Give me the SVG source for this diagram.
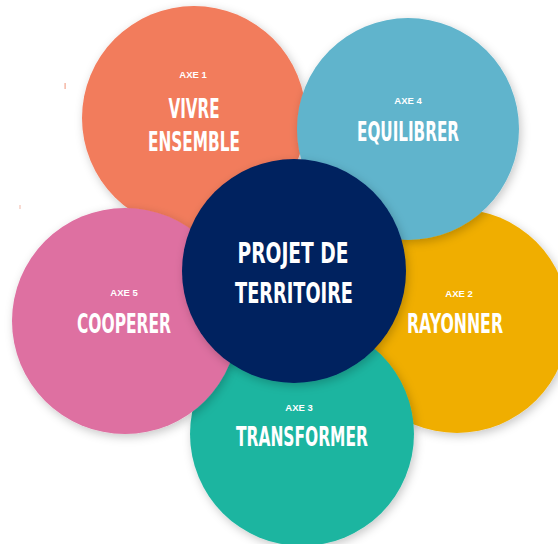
<svg xmlns="http://www.w3.org/2000/svg" width="558" height="544" viewBox="0 0 558 544">
  <defs>
    <filter id="sh" x="-20%" y="-20%" width="140%" height="140%">
      <feDropShadow dx="2" dy="3" stdDeviation="5" flood-color="#000" flood-opacity="0.22"/>
    </filter>
    <style>
      .big { font-family: "Liberation Sans Narrow", "DejaVu Sans Condensed", "Roboto", sans-serif; font-weight: bold; fill: #fff; text-anchor: middle; font-size: 26px; }
      .ctr { font-size: 29px; }
      .axe { font-family: "Liberation Sans", "Open Sans", sans-serif; font-weight: bold; fill: #fff; text-anchor: middle; font-size: 9.5px; }
      circle { filter: url(#sh); }
    </style>
  </defs>
  <rect width="558" height="544" fill="#fff"/>
  <rect x="64.5" y="83" width="1.2" height="6" fill="#f2a58f"/>
  <rect x="19.5" y="205" width="1" height="4" fill="#f2b8a8"/>

  <g id="axe1">
    <circle cx="194" cy="118" r="112" fill="#F27B5C"/>
    <text class="axe" x="193" y="78">AXE 1</text>
    <text class="big" x="194" y="118" textLength="51" lengthAdjust="spacingAndGlyphs">VIVRE</text>
    <text class="big" x="194" y="151" textLength="92" lengthAdjust="spacingAndGlyphs">ENSEMBLE</text>
  </g>
  <g id="axe2">
    <circle cx="457" cy="321" r="112" fill="#F0AE00"/>
    <text class="axe" x="459" y="297">AXE 2</text>
    <text class="big" x="455" y="333" textLength="96" lengthAdjust="spacingAndGlyphs">RAYONNER</text>
  </g>
  <g id="axe4">
    <circle cx="408" cy="129" r="111" fill="#60B4CC"/>
    <text class="axe" x="408" y="104">AXE 4</text>
    <text class="big" x="408" y="141" textLength="102" lengthAdjust="spacingAndGlyphs">EQUILIBRER</text>
  </g>
  <g id="axe3">
    <circle cx="302" cy="434" r="112" fill="#1CB5A0"/>
    <text class="axe" x="299" y="411">AXE 3</text>
    <text class="big" x="302" y="446" textLength="132" lengthAdjust="spacingAndGlyphs">TRANSFORMER</text>
  </g>
  <g id="axe5">
    <circle cx="125" cy="321" r="113" fill="#DE6FA1"/>
    <text class="axe" x="124" y="296">AXE 5</text>
    <text class="big" x="124" y="333" textLength="94" lengthAdjust="spacingAndGlyphs">COOPERER</text>
  </g>
  <g id="projet">
    <circle cx="294" cy="271" r="112" fill="#00205F"/>
    <text class="big ctr" x="293" y="263" textLength="111" lengthAdjust="spacingAndGlyphs">PROJET DE</text>
    <text class="big ctr" x="294" y="303" textLength="118" lengthAdjust="spacingAndGlyphs">TERRITOIRE</text>
  </g>
  <g id="connectors"/>
</svg>
